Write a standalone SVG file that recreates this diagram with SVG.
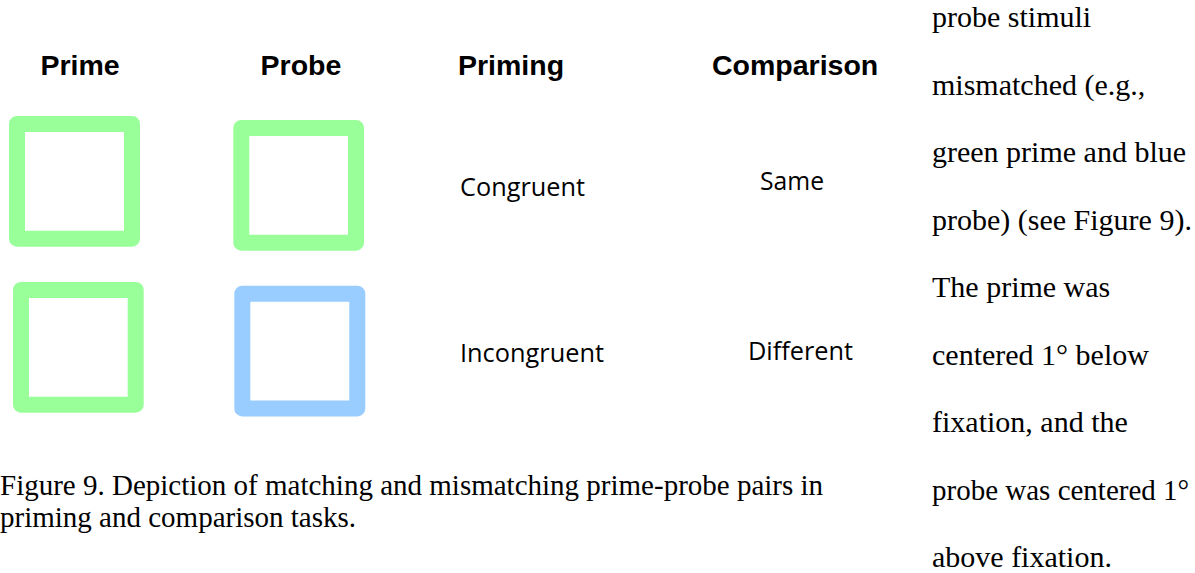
<svg xmlns="http://www.w3.org/2000/svg" width="1195" height="573" viewBox="0 0 1195 573">
<style>
.hdr{font-family:"Liberation Sans",Arial,sans-serif;font-weight:bold;font-size:28.5px;fill:#000}
.lbl{font-family:"Open Sans","Noto Sans",sans-serif;font-size:26px;fill:#000}
.body{font-family:"Liberation Serif","Times New Roman",serif;font-size:30px;fill:#000}
.cap{font-family:"Liberation Serif","Times New Roman",serif;font-size:29px;fill:#000}
.sq{fill:none;stroke-width:16;stroke-linejoin:round}
.green{stroke:#99FF99}
.blue{stroke:#99CCFF}
</style>
<rect width="1195" height="573" fill="#fff"/>
<g id="headers">
<text class="hdr" x="80" y="75" text-anchor="middle">Prime</text>
<text class="hdr" x="301" y="75" text-anchor="middle">Probe</text>
<text class="hdr" x="458" y="75">Priming</text>
<text class="hdr" x="712" y="75">Comparison</text>
</g>
<g id="prime-congruent"><rect class="sq green" x="17" y="124" width="115" height="114.7"/></g>
<g id="probe-congruent"><rect class="sq green" x="241.3" y="128" width="114.7" height="114.7"/></g>
<g id="prime-incongruent"><rect class="sq green" x="21" y="290" width="114.7" height="114.7"/></g>
<g id="probe-incongruent"><rect class="sq blue" x="242.3" y="293.7" width="115" height="114.7"/></g>
<g id="labels">
<text class="lbl" x="460" y="196" textLength="125" lengthAdjust="spacingAndGlyphs">Congruent</text>
<text class="lbl" x="760" y="190" textLength="64" lengthAdjust="spacingAndGlyphs">Same</text>
<text class="lbl" x="460" y="362" textLength="144" lengthAdjust="spacingAndGlyphs">Incongruent</text>
<text class="lbl" x="748" y="359.5" textLength="105" lengthAdjust="spacingAndGlyphs">Different</text>
</g>
<g id="connectors"></g>
<g id="caption">
<text class="cap" x="0" y="495">Figure 9. Depiction of matching and mismatching prime-probe pairs in</text>
<text class="cap" x="0" y="527">priming and comparison tasks.</text>
</g>
<g id="side-text">
<text class="body" x="932" y="27">probe stimuli</text>
<text class="body" x="932" y="94.5">mismatched (e.g.,</text>
<text class="body" x="932" y="162">green prime and blue</text>
<text class="body" x="932" y="229.5">probe) (see Figure 9).</text>
<text class="body" x="932" y="297">The prime was</text>
<text class="body" x="932" y="364.5">centered 1° below</text>
<text class="body" x="932" y="432">fixation, and the</text>
<text class="body" x="932" y="499.5" style="font-size:29px">probe was centered 1°</text>
<text class="body" x="932" y="567">above fixation.</text>
</g>
</svg>
